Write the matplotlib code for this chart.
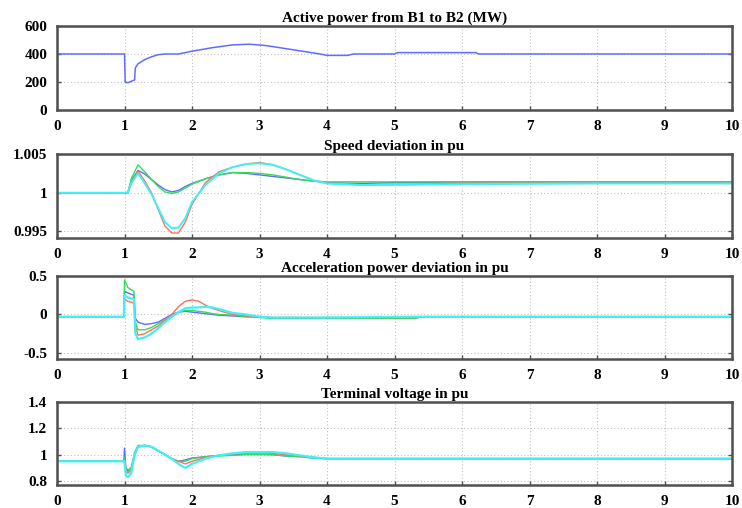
import matplotlib
matplotlib.use("Agg")
import matplotlib.pyplot as plt

plt.rcParams['font.family'] = ['Liberation Serif', 'DejaVu Serif']

# ---- Data ----
titles = ["Active power from B1 to B2 (MW)", "Speed deviation in pu",
          "Acceleration power deviation in pu", "Terminal voltage in pu"]
x_ticks = list(range(0, 11))

# Panel 1: active power
t_power = [0, 1.0, 1.01, 1.05, 1.15, 1.16, 1.2, 1.3, 1.4, 1.5, 1.6, 1.8, 2.0, 2.3, 2.6, 2.85,
           3.1, 3.5, 3.9, 4.0, 4.3, 4.4, 5.0, 5.05, 6.2, 6.25, 10]
p_power = [400, 400, 200, 195, 215, 300, 330, 360, 380, 395, 400, 400, 420, 445, 465, 470,
           460, 430, 400, 390, 390, 400, 400, 410, 410, 400, 400]
power_yticks = [0, 200, 400, 600]
power_ylabels = ["0", "200", "400", "600"]

# Panel 2: speed deviation
t_speed = [0, 1.05, 1.1, 1.2, 1.3, 1.4, 1.5, 1.6, 1.7, 1.8, 1.9, 2.0, 2.2, 2.4, 2.6, 2.8,
           3.0, 3.2, 3.4, 3.6, 3.8, 4.0, 4.5, 5.0, 6.0, 8.0, 10.0]
speed_blue = [1, 1, 1.0015, 1.0029, 1.0024, 1.0017, 1.0010, 1.0004, 1.0001, 1.0003, 1.0008,
              1.0012, 1.0018, 1.0023, 1.0026, 1.0025, 1.0023, 1.0021, 1.0019, 1.0017, 1.0015,
              1.0013, 1.0012, 1.0013, 1.0014, 1.0014, 1.0014]
speed_green = [1, 1, 1.0018, 1.0036, 1.0027, 1.0017, 1.0008, 1.0001, 0.9999, 1.0001, 1.0006,
               1.0011, 1.0018, 1.0023, 1.0026, 1.0026, 1.0025, 1.0023, 1.0020, 1.0017, 1.0015,
               1.0014, 1.0014, 1.0014, 1.0014, 1.0014, 1.0014]
speed_red = [1, 1, 1.0013, 1.0028, 1.0015, 1.0000, 0.9978, 0.9957, 0.9948, 0.9948, 0.9962,
             0.9985, 1.0013, 1.0027, 1.0033, 1.0037, 1.0039, 1.0036, 1.0030, 1.0023, 1.0016,
             1.0012, 1.0010, 1.0011, 1.0012, 1.0012, 1.0012]
speed_cyan = [1, 1, 1.0012, 1.0025, 1.0012, 0.9998, 0.9980, 0.9962, 0.9954, 0.9955, 0.9967,
              0.9988, 1.0010, 1.0025, 1.0033, 1.0037, 1.0038, 1.0036, 1.0030, 1.0023, 1.0016,
              1.0012, 1.0010, 1.0010, 1.0011, 1.0012, 1.0012]
speed_yticks = [0.995, 1.0, 1.005]
speed_ylabels = ["0.995", "1", "1.005"]

# Panel 3: acceleration power deviation
t_acc = [0, 0.99, 1.0, 1.05, 1.14, 1.16, 1.2, 1.3, 1.4, 1.5, 1.6, 1.7, 1.8, 1.9, 2.0, 2.1,
         2.2, 2.3, 2.4, 2.6, 2.8, 3.0, 3.2, 4.0, 5.3, 5.4, 10]
acc_blue = [-0.03, -0.03, 0.30, 0.28, 0.25, -0.05, -0.10, -0.13, -0.12, -0.10, -0.05, 0.0,
            0.03, 0.04, 0.03, 0.02, 0.01, 0.0, -0.01, -0.02, -0.03, -0.03, -0.05, -0.05,
            -0.05, -0.03, -0.03]
acc_green = [-0.03, -0.03, 0.45, 0.35, 0.30, -0.10, -0.20, -0.20, -0.17, -0.12, -0.07, -0.02,
             0.03, 0.05, 0.05, 0.04, 0.03, 0.01, 0.0, -0.01, -0.03, -0.04, -0.05, -0.05,
             -0.05, -0.03, -0.03]
acc_red = [-0.03, -0.03, 0.20, 0.17, 0.15, -0.15, -0.27, -0.25, -0.20, -0.15, -0.08, 0.0,
           0.10, 0.17, 0.19, 0.17, 0.12, 0.08, 0.05, 0.0, -0.02, -0.03, -0.04, -0.04,
           -0.04, -0.03, -0.03]
acc_cyan = [-0.03, -0.03, 0.25, 0.22, 0.20, -0.25, -0.32, -0.30, -0.25, -0.18, -0.10, -0.03,
            0.03, 0.08, 0.09, 0.09, 0.10, 0.09, 0.07, 0.02, 0.0, -0.03, -0.04, -0.04,
            -0.03, -0.03, -0.03]
acc_yticks = [-0.5, 0, 0.5]
acc_ylabels = ["-0.5", "0", "0.5"]

# Panel 4: terminal voltage
t_volt = [0, 0.99, 1.0, 1.02, 1.05, 1.1, 1.15, 1.2, 1.3, 1.4, 1.5, 1.6, 1.7, 1.8, 1.9, 2.0,
          2.2, 2.4, 2.6, 2.8, 3.0, 3.2, 3.4, 3.6, 3.8, 4.0, 5.0, 10]
volt_blue = [0.95, 0.95, 1.05, 0.90, 0.88, 0.90, 1.00, 1.06, 1.07, 1.06, 1.03, 1.00, 0.97,
             0.95, 0.96, 0.975, 0.985, 0.995, 1.0, 1.005, 1.005, 1.0, 0.99, 0.985, 0.975,
             0.97, 0.97, 0.97]
volt_green = [0.95, 0.95, 0.98, 0.88, 0.87, 0.90, 1.02, 1.07, 1.07, 1.06, 1.03, 1.00, 0.97,
              0.95, 0.95, 0.97, 0.985, 0.99, 0.995, 1.0, 1.0, 1.0, 0.99, 0.985, 0.975, 0.97,
              0.97, 0.97]
volt_red = [0.95, 0.95, 0.96, 0.87, 0.86, 0.88, 1.00, 1.06, 1.07, 1.06, 1.03, 1.00, 0.97,
            0.95, 0.93, 0.95, 0.98, 0.995, 1.005, 1.015, 1.015, 1.01, 1.0, 0.99, 0.98, 0.97,
            0.97, 0.97]
volt_cyan = [0.95, 0.95, 0.95, 0.84, 0.83, 0.86, 1.00, 1.06, 1.07, 1.06, 1.03, 1.00, 0.97,
             0.93, 0.90, 0.93, 0.97, 0.995, 1.01, 1.02, 1.02, 1.02, 1.01, 0.995, 0.98, 0.97,
             0.97, 0.97]
volt_yticks = [0.8, 1.0, 1.2, 1.4]
volt_ylabels = ["0.8", "1", "1.2", "1.4"]

# ---- Style ----
C_BLUE = '#5f6cff'
C_GREEN = '#33dd55'
C_RED = '#ff6f5a'
C_CYAN = '#40f0f8'
W, H = 742, 508

fig = plt.figure(figsize=(W / 100, H / 100), dpi=100)

def make_ax(top_px, bot_px):
    left, right = 57, 732
    return fig.add_axes([left / W, 1 - bot_px / H, (right - left) / W, (bot_px - top_px) / H])

axes = [make_ax(26, 110), make_ax(154, 238), make_ax(276, 359), make_ax(402, 485)]

def style(ax, title, yticks, ylabels, ylim):
    ax.set_xlim(0, 10)
    ax.set_ylim(*ylim)
    ax.set_xticks(x_ticks)
    ax.set_xticklabels([str(v) for v in x_ticks])
    ax.set_yticks(yticks)
    ax.set_yticklabels(ylabels)
    ax.grid(True, color='#c0c0c0', linestyle=(0, (1, 2)), linewidth=0.8)
    for s in ax.spines.values():
        s.set_color('#505050')
        s.set_linewidth(1.8)
    ax.tick_params(direction='in', length=3, width=1, color='#505050',
                   labelsize=11, pad=7, top=False, right=True)
    for lab in ax.get_xticklabels() + ax.get_yticklabels():
        lab.set_fontweight('bold')
    ax.set_title(title, fontsize=11, fontweight='bold', pad=3)

# Panel 1
ax = axes[0]
ax.plot(t_power, p_power, color=C_BLUE, lw=1.1)
style(ax, titles[0], power_yticks, power_ylabels, (0, 590))

# Panel 2
ax = axes[1]
for y, c, lw in [(speed_blue, C_BLUE, 1.0), (speed_green, C_GREEN, 1.0),
                 (speed_red, C_RED, 1.0), (speed_cyan, C_CYAN, 1.4)]:
    ax.plot(t_speed, y, color=c, lw=lw)
style(ax, titles[1], speed_yticks, speed_ylabels, (0.99415, 1.005))

# Panel 3
ax = axes[2]
for y, c, lw in [(acc_blue, C_BLUE, 1.0), (acc_green, C_GREEN, 1.0),
                 (acc_red, C_RED, 1.0), (acc_cyan, C_CYAN, 1.6)]:
    ax.plot(t_acc, y, color=c, lw=lw)
style(ax, titles[2], acc_yticks, acc_ylabels, (-0.58, 0.5))

# Panel 4
ax = axes[3]
for y, c, lw in [(volt_blue, C_BLUE, 1.0), (volt_green, C_GREEN, 1.0),
                 (volt_red, C_RED, 1.0), (volt_cyan, C_CYAN, 1.6)]:
    ax.plot(t_volt, y, color=c, lw=lw)
style(ax, titles[3], volt_yticks, volt_ylabels, (0.77, 1.4))

fig.savefig("out.png", dpi=100)
